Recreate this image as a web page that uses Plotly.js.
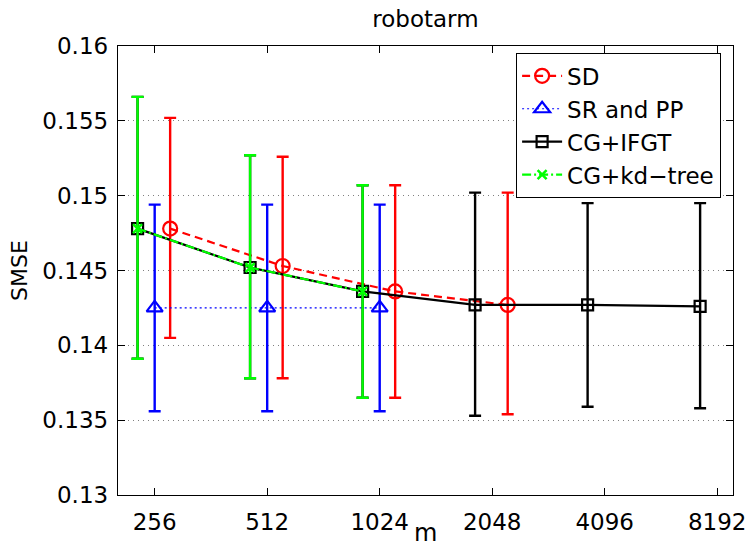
<!DOCTYPE html>
<html>
<head>
<meta charset="utf-8">
<script src="https://cdn.plot.ly/plotly-3.0.1.min.js"></script>
<style>html,body{margin:0;padding:0;background:#fff;}#chart{width:751px;height:548px;}</style>
</head>
<body>
<div id="chart"></div>
<script>
// ---- data ----
const mTicks = [256, 512, 1024, 2048, 4096, 8192];
const mTickText = ['256', '512', '1024', '2048', '4096', '8192'];
const yTicks = [0.13, 0.135, 0.14, 0.145, 0.15, 0.155, 0.16];
const yTickText = ['0.13', '0.135', '0.14', '0.145', '0.15', '0.155', '0.16'];

const sdM = [256, 512, 1024, 2048];
const sdY = [0.1478, 0.1453, 0.1436, 0.1427];
const sdHi = [0.1552, 0.1526, 0.1507, 0.1502];
const sdLo = [0.1405, 0.1378, 0.1365, 0.1354];

const srM = [256, 512, 1024];
const srY = [0.1425, 0.1425, 0.1425];
const srHi = [0.1494, 0.1494, 0.1494];
const srLo = [0.1356, 0.1356, 0.1356];

const ifgtM = [256, 512, 1024, 2048, 4096, 8192];
const ifgtY = [0.1478, 0.1452, 0.1436, 0.1427, 0.1427, 0.1426];
const ifgtHi = [0.1566, 0.1527, 0.1507, 0.1502, 0.1495, 0.1495];
const ifgtLo = [0.1391, 0.1378, 0.1365, 0.1353, 0.1359, 0.1358];

const kdM = [256, 512, 1024];
const kdY = [0.1478, 0.1452, 0.1436];
const kdHi = [0.1566, 0.1527, 0.1507];
const kdLo = [0.1391, 0.1378, 0.1365];

// ---- helpers ----
const up = (hi, y) => hi.map((v, i) => v - y[i]);
const dn = (lo, y) => lo.map((v, i) => y[i] - v);
const shift = (arr, f) => arr.map(v => v * f);

const FONT = 'DejaVu Sans, Arial, sans-serif';

const traces = [
  {
    name: 'SD', x: shift(sdM, 1.1), y: sdY, mode: 'lines+markers', type: 'scatter',
    line: {color: '#ff0000', width: 2.2, dash: '8px,5px'},
    marker: {symbol: 'circle-open', size: 14, color: '#ff0000', line: {width: 2.2, color: '#ff0000'}},
    error_y: {type: 'data', symmetric: false, array: up(sdHi, sdY), arrayminus: dn(sdLo, sdY),
              color: '#ff0000', thickness: 2.4, width: 6}
  },
  {
    name: 'SR and PP', x: srM, y: srY, mode: 'lines+markers', type: 'scatter',
    line: {color: '#0000ff', width: 1.2, dash: '2px,3px'},
    marker: {symbol: 'triangle-up-open', size: 14, color: '#0000ff', line: {width: 2.2, color: '#0000ff'}},
    error_y: {type: 'data', symmetric: false, array: up(srHi, srY), arrayminus: dn(srLo, srY),
              color: '#0000ff', thickness: 2.4, width: 6}
  },
  {
    name: 'CG+IFGT', x: shift(ifgtM, 0.9), y: ifgtY, mode: 'lines+markers', type: 'scatter',
    line: {color: '#000000', width: 2.2},
    marker: {symbol: 'square-open', size: 11, color: '#000000', line: {width: 2.2, color: '#000000'}},
    error_y: {type: 'data', symmetric: false, array: up(ifgtHi, ifgtY), arrayminus: dn(ifgtLo, ifgtY),
              color: '#000000', thickness: 2.4, width: 6}
  },
  {
    name: 'CG+kd\u2212tree', x: shift(kdM, 0.9), y: kdY, mode: 'lines+markers', type: 'scatter',
    line: {color: '#00ff00', width: 2.2, dash: '9px,3px,2px,3px'},
    marker: {symbol: 'x-thin-open', size: 9, color: '#00ff00', line: {width: 2.5, color: '#00ff00'}},
    error_y: {type: 'data', symmetric: false, array: up(kdHi, kdY), arrayminus: dn(kdLo, kdY),
              color: '#00ff00', thickness: 2.4, width: 6}
  }
];

const layout = {
  width: 751, height: 548,
  margin: {l: 118, r: 18, t: 46, b: 53, pad: 0},
  paper_bgcolor: '#ffffff', plot_bgcolor: '#ffffff',
  font: {family: FONT, size: 24, color: '#000000'},
  title: {text: 'robotarm', font: {family: FONT, size: 23, color: '#000'},
          x: 0.5665, xref: 'container', xanchor: 'center', y: 0.966, yref: 'container', yanchor: 'middle'},
  showlegend: true,
  legend: {x: 0.647, y: 0.984, xanchor: 'left', yanchor: 'top', bgcolor: '#ffffff',
           bordercolor: '#000000', borderwidth: 1.2, font: {family: FONT, size: 23, color: '#000'},
           tracegroupgap: 0, itemwidth: 40},
  xaxis: {
    type: 'log', range: [2.3101, 3.9556], tickvals: mTicks, ticktext: mTickText,
    ticks: 'inside', ticklen: 7, tickwidth: 1, tickcolor: '#000', mirror: 'ticks',
    showline: true, linecolor: '#000', linewidth: 1.2, showgrid: false, zeroline: false,
    tickfont: {family: FONT, size: 23}, ticklabelstandoff: 6
  },
  yaxis: {
    range: [0.13, 0.16], tickvals: yTicks, ticktext: yTickText,
    ticks: 'inside', ticklen: 7, tickwidth: 1, tickcolor: '#000', mirror: 'ticks',
    showline: true, linecolor: '#000', linewidth: 1.2, zeroline: false,
    showgrid: true, gridcolor: '#808080', griddash: '1px,4px', gridwidth: 1,
    tickfont: {family: FONT, size: 23}, ticklabelstandoff: 4,
    title: {text: 'SMSE', font: {family: FONT, size: 22}, standoff: 8}
  },
  annotations: [
    {text: 'm', xref: 'paper', yref: 'paper', x: 0.5, y: -0.049, xanchor: 'center', yanchor: 'top',
     showarrow: false, font: {family: FONT, size: 24, color: '#000'}}
  ]
};

Plotly.newPlot('chart', traces, layout, {displayModeBar: false, staticPlot: true});
</script>
</body>
</html>
